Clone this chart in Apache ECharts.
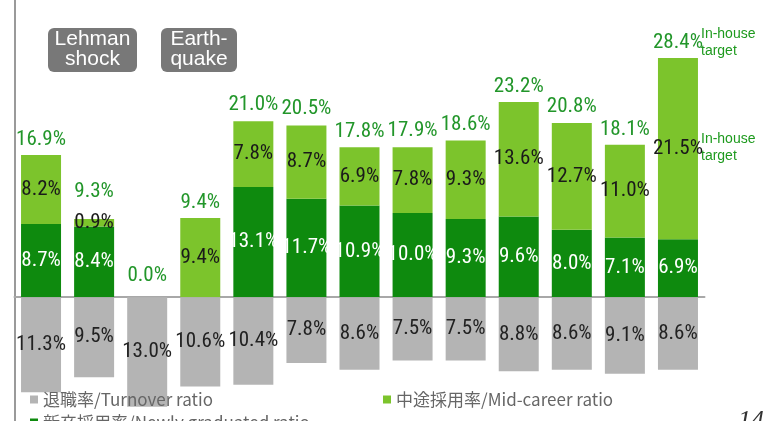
<!DOCTYPE html>
<html>
<head>
<meta charset="utf-8">
<script src="https://cdn.jsdelivr.net/npm/echarts@6/dist/echarts.min.js"></script>
<style>
  html, body { margin: 0; padding: 0; background: #ffffff; }
  #chart { width: 765px; height: 421px; }
</style>
</head>
<body>
<div id="chart"></div>
<script>
// Hiring and turnover ratios by fiscal year (%)
const years = ['FY1', 'FY2', 'FY3', 'FY4', 'FY5', 'FY6', 'FY7', 'FY8', 'FY9', 'FY10', 'FY11', 'FY12', 'Target'];
const newlyGraduated = [8.7, 8.4, 0.0, 0.0, 13.1, 11.7, 10.9, 10.0, 9.3, 9.6, 8.0, 7.1, 6.9];
const midCareer      = [8.2, 0.9, 0.0, 9.4, 7.8, 8.7, 6.9, 7.8, 9.3, 13.6, 12.7, 11.0, 21.5];
const totalHiring    = [16.9, 9.3, 0.0, 9.4, 21.0, 20.5, 17.8, 17.9, 18.6, 23.2, 20.8, 18.1, 28.4];
const turnover       = [11.3, 9.5, 13.0, 10.6, 10.4, 7.8, 8.6, 7.5, 7.5, 8.8, 8.6, 9.1, 8.6];

const NAME_TURNOVER = '退職率/Turnover ratio';
const NAME_MID = '中途採用率/Mid-career ratio';
const NAME_NEWLY = '新卒採用率/Newly graduated ratio';

const COLOR_DARK = '#0e8a0e';
const COLOR_LIGHT = '#7cc42c';
const COLOR_GRAY = '#b4b4b4';
const COLOR_TOTAL = '#22962a';

const numFont = "'Roboto Condensed', 'DejaVu Sans', sans-serif";
const pct = v => Math.abs(v).toFixed(1) + '%';

// a few total labels sit higher to clear neighbouring labels
const totalLift = { 1: 17, 2: 11 };

const chart = echarts.init(document.getElementById('chart'));

const labelBase = { show: true, fontFamily: numFont, fontSize: 21 };

const option = {
  animation: false,
  backgroundColor: '#ffffff',
  grid: { left: 14.5, top: 0, width: 690, height: 421 },
  xAxis: {
    type: 'category',
    data: years,
    axisLine: { show: true, onZero: true, lineStyle: { color: '#a8a8a8', width: 2 } },
    axisTick: { show: false },
    axisLabel: { show: false },
    splitLine: { show: false }
  },
  yAxis: {
    type: 'value',
    min: -14.7,
    max: 35.3,
    axisLine: { show: true, lineStyle: { color: '#9a9a9a', width: 2 } },
    axisTick: { show: false },
    axisLabel: { show: false },
    splitLine: { show: false }
  },
  legend: [
    { left: 25, top: 386, data: [NAME_TURNOVER] },
    { left: 378, top: 386, data: [NAME_MID] },
    { left: 25, top: 409, data: [NAME_NEWLY] }
  ].map(l => Object.assign({
    icon: 'rect', itemWidth: 8, itemHeight: 8, itemGap: 10,
    textStyle: { fontFamily: "'Noto Sans CJK JP', sans-serif", fontSize: 17, color: '#666666' }
  }, l)),
  series: [
    {
      name: NAME_NEWLY,
      type: 'bar',
      stack: 'hire',
      barWidth: 40,
      itemStyle: { color: COLOR_DARK },
      label: Object.assign({}, labelBase, {
        position: 'inside', color: '#ffffff',
        formatter: p => p.value > 0 ? pct(p.value) : ''
      }),
      data: newlyGraduated
    },
    {
      name: NAME_MID,
      type: 'bar',
      stack: 'hire',
      barWidth: 40,
      itemStyle: { color: COLOR_LIGHT },
      label: Object.assign({}, labelBase, {
        position: 'inside', color: '#1a1a1a',
        formatter: p => p.value > 0 ? pct(p.value) : ''
      }),
      data: midCareer
    },
    {
      name: NAME_TURNOVER,
      type: 'bar',
      stack: 'hire',
      barWidth: 40,
      itemStyle: { color: COLOR_GRAY },
      label: Object.assign({}, labelBase, {
        position: 'inside', color: '#222222',
        formatter: p => pct(p.value)
      }),
      data: turnover.map(v => -v)
    },
    {
      name: 'total',
      type: 'bar',
      barWidth: 40,
      barGap: '-100%',
      silent: true,
      itemStyle: { color: 'rgba(0,0,0,0)' },
      label: Object.assign({}, labelBase, {
        position: 'top', distance: 5, color: COLOR_TOTAL,
        formatter: p => pct(p.value)
      }),
      data: totalHiring.map((v, i) => totalLift[i] ? { value: v, label: { distance: totalLift[i] } } : v)
    }
  ],
  graphic: [
    { type: 'rect', shape: { x: 48, y: 28, width: 89, height: 44, r: 6 }, style: { fill: '#787878' } },
    { type: 'text', x: 92.5, y: 49, style: { text: 'Lehman\nshock', fill: '#ffffff', font: "21px 'Liberation Sans', Arial, sans-serif", lineHeight: 20, align: 'center', verticalAlign: 'middle' } },
    { type: 'rect', shape: { x: 161, y: 28, width: 76, height: 44, r: 6 }, style: { fill: '#787878' } },
    { type: 'text', x: 199, y: 49, style: { text: 'Earth-\nquake', fill: '#ffffff', font: "21px 'Liberation Sans', Arial, sans-serif", lineHeight: 20, align: 'center', verticalAlign: 'middle' } },
    { type: 'text', x: 701, y: 26, style: { text: 'In-house\ntarget', fill: '#1e9a1e', font: "14px 'Liberation Sans', Arial, sans-serif", lineHeight: 17 } },
    { type: 'text', x: 701, y: 131, style: { text: 'In-house\ntarget', fill: '#1e9a1e', font: "14px 'Liberation Sans', Arial, sans-serif", lineHeight: 17 } },
    { type: 'text', x: 738, y: 408, style: { text: '14', fill: '#333333', font: "italic 26px 'Liberation Serif', serif" } }
  ]
};

chart.setOption(option);
</script>
</body>
</html>
